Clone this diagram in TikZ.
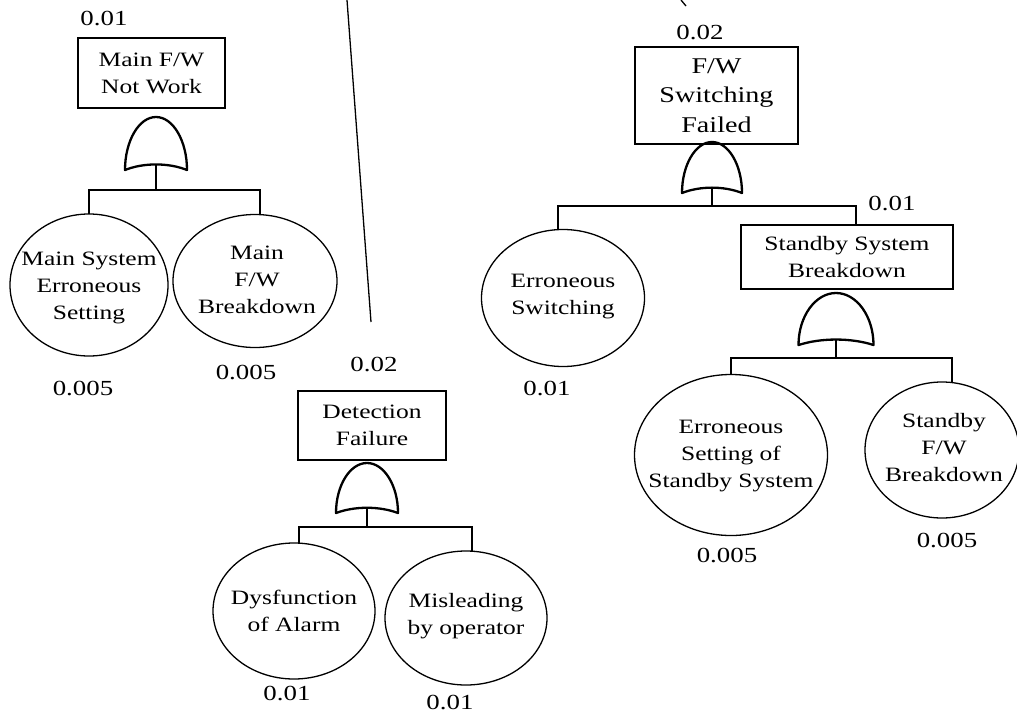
\documentclass[tikz,border=0pt]{standalone}
\usepackage{fontspec}
\setmainfont{Liberation Serif}[FakeStretch=1.25]
\usetikzlibrary{shapes.geometric}
\tikzset{
  box/.style={draw, line width=1.3pt, rectangle, inner sep=0pt, align=center, font=\fontsize{20.4}{27}\selectfont},
  event/.style={draw, line width=1.3pt, ellipse, inner sep=0pt, outer sep=0pt},
  etext/.style={inner sep=0pt, align=center, font=\fontsize{20.4}{27}\selectfont},
  prob/.style={inner sep=0pt, font=\fontsize{21.5}{26}\selectfont},
  conn/.style={line width=1.3pt},
  gate/.style={line width=2.3pt, line join=round},
  orgate/.pic={
    \draw[gate] (-1,0) .. controls (-1,-0.55) and (-0.55,-1) .. (0,-1)
      .. controls (0.55,-1) and (1,-0.55) .. (1,0)
      .. controls (0.4,-0.14) and (-0.4,-0.14) .. cycle;
    \coordinate (-out) at (0,-0.105);
  }
}
\begin{document}
\begin{tikzpicture}[x=1pt,y=-1pt]
\useasboundingbox (0,0) rectangle (1017,715);

% ---------- left tree ----------
\node[prob] (p1) at (104,19) {0.01};
\node[box, minimum width=147, minimum height=70] (b1) at (151.5,73) {Main F/W\\Not Work};
\pic (g1) at (156,170) [xscale=31, yscale=53] {orgate};
\node[event, minimum width=158, minimum height=142] (e1) at (89,285) {};
\node[etext] (t1) at (89,288) {Main System\\Erroneous\\Setting};
\node[event, minimum width=164, minimum height=133] (e2) at (255,281) {};
\node[etext] (t2) at (257,280) {Main\\F/W\\Breakdown};
\node[prob] (p2) at (83,388) {0.005};
\node[prob] (p3) at (246,372) {0.005};
\coordinate (j1) at (156,190);
\draw[conn] (g1-out) -- (j1);
\draw[conn] (e1.north) |- (j1) -| ([xshift=5]e2.north);

% ---------- long separator line ----------
\coordinate (s1) at (347,0);
\coordinate (s2) at (371,322);
\draw[conn] (s1) -- (s2);
\coordinate (s3) at (681,0);
\coordinate (s4) at (686,6);
\draw[conn] (s3) -- (s4);

% ---------- middle tree ----------
\node[prob] (p4) at (374,364) {0.02};
\node[box, minimum width=148, minimum height=69] (b2) at (372,425.5) {Detection\\Failure};
\pic (g2) at (367,513) [xscale=31, yscale=50] {orgate};
\node[event, minimum width=162, minimum height=136] (e3) at (294,611) {};
\node[etext] (t3) at (294,611) {Dysfunction\\of Alarm};
\node[event, minimum width=162, minimum height=134] (e4) at (466,618) {};
\node[etext] (t4) at (466,616) {Misleading\\by operator};
\node[prob] (p5) at (287,693) {0.01};
\node[prob] (p6) at (450,702) {0.01};
\coordinate (j2) at (367,527);
\draw[conn] (g2-out) -- (j2);
\draw[conn] ([xshift=5]e3.north) |- (j2) -| ([xshift=6]e4.north);

% ---------- right tree ----------
\node[prob] (p7) at (700,33) {0.02};
\node[box, minimum width=163, minimum height=97, font=\fontsize{22.5}{29.5}\selectfont] (b3) at (716.5,95.5) {F/W\\Switching\\Failed};
\pic (g3) at (712,193) [xscale=30, yscale=51] {orgate};
\node[event, minimum width=163, minimum height=137] (e5) at (563,298) {};
\node[etext] (t5) at (563,297) {Erroneous\\Switching};
\node[prob] (p8) at (547,388) {0.01};
\node[prob] (p9) at (892,203) {0.01};
\node[box, minimum width=212, minimum height=64] (b4) at (847,257) {Standby System\\Breakdown};
\coordinate (j3) at (712,206);
\draw[conn] (g3-out) -- (j3);
\draw[conn] ([xshift=-5]e5.north) |- (j3) -| ([xshift=9]b4.north);

\pic (g4) at (836,345) [xscale=37.5, yscale=52] {orgate};
\node[event, minimum width=193, minimum height=161] (e6) at (731,455) {};
\node[etext] (t6) at (731,456) {Erroneous\\Setting of\\Standby System};
\node[event, minimum width=154, minimum height=136] (e7) at (942,450) {};
\node[etext] (t7) at (944,448) {Standby\\F/W\\Breakdown};
\node[prob] (p10) at (727,555) {0.005};
\node[prob] (p11) at (947,540) {0.005};
\coordinate (j4) at (836,358);
\draw[conn] (g4-out) -- (j4);
\draw[conn] (e6.north) |- (j4) -| ([xshift=10]e7.north);
\end{tikzpicture}
\end{document}
